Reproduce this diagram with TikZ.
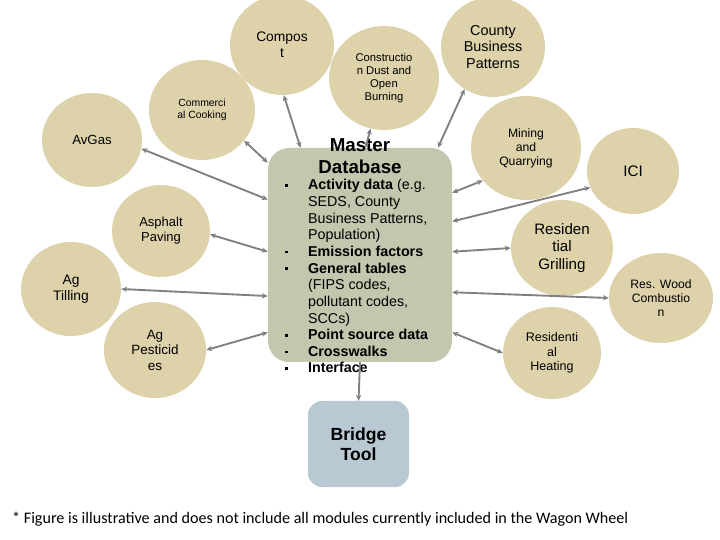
\documentclass[tikz,border=0pt]{standalone}
\usepackage{fontspec}
\setmainfont{Liberation Sans}
\newfontfamily\notefont{Carlito}
\usetikzlibrary{shapes.geometric, arrows.meta, positioning}

\definecolor{modtan}{RGB}{221,210,170}
\definecolor{dbgreen}{RGB}{196,198,174}
\definecolor{bridgeblue}{RGB}{184,201,212}
\definecolor{linkgray}{RGB}{128,128,128}

\newcommand{\pxu}{0.03cm}
\newcommand{\sqbul}{\rule[2.6pt]{2.4pt}{2.4pt}}

\tikzset{
  module/.style={ellipse, fill=modtan, inner sep=0pt, align=center},
  wheel/.style 2 args={minimum width=#1*\pxu, minimum height=#2*\pxu},
  fs/.style 2 args={font=\fontsize{#1}{#2}\selectfont},
  dbbox/.style={rectangle, rounded corners=18pt, fill=dbgreen},
  bridgebox/.style={rectangle, rounded corners=12pt, fill=bridgeblue, align=center},
  link/.style={<->, >={Stealth[length=5pt, width=4.5pt]}, draw=linkgray, line width=1.6pt}
}

\begin{document}
\begin{tikzpicture}[x=0.03cm, y=-0.03cm]
    \useasboundingbox (0,0) rectangle (720,540);

    % Modules round the wheel
    \node[module, wheel={104}{100}, fs={11.8}{13.6}] (compost) at (282,45) {Compos\\t};
    \node[module, wheel={110}{104}, fs={9.6}{11}] (construction) at (384,78) {Constructio\\n Dust and\\Open\\Burning};
    \node[module, wheel={106}{100}, fs={8.9}{10.2}] (commercial) at (202,110) {Commerci\\al Cooking};
    \node[module, wheel={104}{100}, fs={12.3}{14.2}] (county) at (493,47) {County\\Business\\Patterns};
    \node[module, wheel={110}{104}, fs={10.4}{12}] (mining) at (526,148) {Mining\\and\\Quarrying};
    \node[module, wheel={92}{86}, fs={13}{15}] (ici) at (633,171) {ICI};
    \node[module, wheel={102}{96}, fs={12.9}{14.8}] (grilling) at (562,248) {Residen\\tial\\Grilling};
    \node[module, wheel={104}{90}, fs={10.4}{12}] (reswood) at (661,298) {Res. Wood\\Combustio\\n};
    \node[module, wheel={98}{92}, fs={10.7}{12.3}] (heating) at (552,353) {Residenti\\al\\Heating};
    \node[module, wheel={100}{94}, fs={11.3}{13}] (avgas) at (92,140) {AvGas};
    \node[module, wheel={98}{92}, fs={11.1}{12.8}] (asphalt) at (161,231) {Asphalt\\Paving};
    \node[module, wheel={100}{94}, fs={11.8}{13.6}] (tilling) at (71,289) {Ag\\Tilling};
    \node[module, wheel={102}{96}, fs={11.5}{13.2}] (pesticides) at (155,350) {Ag\\Pesticid\\es};

    % Master database in the hub
    \node[dbbox, minimum width=184*\pxu, minimum height=214*\pxu] (master) at (360,255) {};
    \node[align=center, font=\fontsize{16}{18.7}\selectfont\bfseries] (mastertitle) at (360,156) {Master\\Database};
    \node[anchor=base west, inner sep=0pt, font=\fontsize{12.2}{14.2}\selectfont] (masterlist) at (285,190) {%
      \begin{tabular}[t]{@{}p{19.5pt}@{}l@{}}
        \sqbul & \textbf{Activity data} (e.g.\\
               & SEDS, County\\
               & Business Patterns,\\
               & Population)\\
        \sqbul & \textbf{Emission factors}\\
        \sqbul & \textbf{General tables}\\
               & (FIPS codes,\\
               & pollutant codes,\\
               & SCCs)\\
        \sqbul & \textbf{Point source data}\\
        \sqbul & \textbf{Crosswalks}\\
        \sqbul & \textbf{Interface}
      \end{tabular}};

    % Bridge tool below
    \node[bridgebox, minimum width=101*\pxu, minimum height=86*\pxu, font=\fontsize{15}{17.3}\selectfont\bfseries] (bridge) at (358.5,444) {Bridge\\Tool};

    % Spokes
    \foreach \m/\a/\b in {compost/272/119, construction/255/87, commercial/324/135,
                          county/236/54, mining/217/34, ici/201/20, grilling/180/2,
                          reswood/180/338, heating/180/320, avgas/350/149,
                          asphalt/356/178, tilling/0/204, pesticides/0/220} {
        \draw[link] (\m.\a) -- (master.\b);
    }
    \draw[link, ->] (master.south) -- (bridge.north);

    % Footnote
    \node[anchor=base west, inner sep=0pt, font=\notefont\fontsize{13.75}{16}\selectfont] (note) at (12,523) {* Figure is illustrative and does not include all modules currently included in the Wagon Wheel};
\end{tikzpicture}
\end{document}
